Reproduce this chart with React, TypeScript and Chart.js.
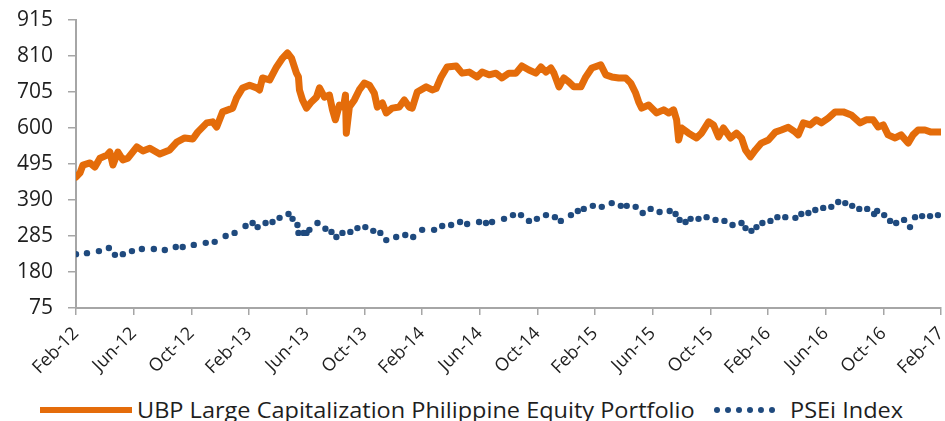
import React, { useEffect, useRef } from 'react';
import { Chart, registerables } from 'chart.js';

Chart.register(...registerables);

// X axis: months since Feb-2012
const xTickLabels = [
  'Feb-12', 'Jun-12', 'Oct-12', 'Feb-13', 'Jun-13', 'Oct-13', 'Feb-14',
  'Jun-14', 'Oct-14', 'Feb-15', 'Jun-15', 'Oct-15', 'Feb-16', 'Jun-16',
  'Oct-16', 'Feb-17',
];
const yTickValues = [75, 180, 285, 390, 495, 600, 705, 810, 915];

const ubpMonth = [
  0, 0.28, 0.48, 0.97, 1.31, 1.66, 2.15, 2.35, 2.56, 2.91, 3.25, 3.6, 4.22, 4.64,
  5.12, 5.81, 6.5, 6.99, 7.54, 8.1, 8.44, 9.07, 9.48, 9.76, 10.17, 10.87, 11.14,
  11.56, 12.04, 12.53, 12.73, 12.94, 13.43, 13.91, 14.33, 14.67, 14.95, 15.29,
  15.43, 15.5, 15.71, 15.99, 16.33, 16.68, 16.89, 17.23, 17.58, 17.79, 17.99,
  18.27, 18.55, 18.69, 18.75, 18.96, 19.31, 19.65, 20.0, 20.35, 20.69, 20.9,
  21.25, 21.52, 21.94, 22.42, 22.77, 23.11, 23.32, 23.67, 24.29, 24.71, 24.98,
  25.33, 25.74, 26.37, 26.78, 27.27, 27.82, 28.17, 28.65, 29.13, 29.55, 30.03,
  30.52, 30.93, 31.42, 31.9, 32.25, 32.6, 32.94, 33.15, 33.5, 33.84, 34.19,
  34.53, 35.02, 35.36, 35.78, 36.4, 36.75, 37.16, 37.65, 38.13, 38.48, 38.82,
  39.03, 39.24, 39.72, 40.28, 40.76, 41.11, 41.45, 41.66, 41.8, 42.01, 42.49,
  43.04, 43.39, 43.88, 44.22, 44.57, 44.91, 45.4, 45.81, 46.16, 46.44, 46.78,
  47.13, 47.54, 48.03, 48.51, 48.93, 49.41, 49.9, 50.1, 50.45, 50.93, 51.35,
  51.7, 52.18, 52.66, 53.22, 53.77, 54.39, 54.81, 55.29, 55.64, 55.99, 56.33,
  56.82, 57.23, 57.72, 58.06, 58.41, 58.89, 59.31, 59.79, 60,
];
const ubpValue = [
  457, 469, 492, 498, 486, 512, 521, 530, 492, 530, 507, 512, 545, 533,
  541, 524, 536, 559, 571, 568, 588, 615, 618, 603, 647, 658, 688,
  717, 725, 717, 711, 746, 740, 778, 804, 819, 804, 760,
  749, 711, 682, 658, 676, 690, 717, 690, 696, 653, 624,
  667, 661, 696, 585, 661, 682, 711, 731, 725, 702, 661,
  673, 644, 658, 661, 682, 661, 658, 705, 720, 711, 715,
  749, 778, 781, 760, 763, 749, 763, 755, 760, 746, 760,
  760, 781, 769, 760, 778, 763, 775, 760, 720, 746, 734,
  720, 720, 749, 775, 784, 755, 749, 746, 746, 731, 702,
  676, 658, 667, 644, 653, 644, 653, 624, 565, 600, 585,
  571, 585, 618, 609, 574, 600, 571, 585, 571, 536, 516,
  536, 556, 565, 588, 594, 602, 588, 580, 615, 609, 624,
  615, 629, 647, 647, 638, 615, 624, 624, 603, 609, 580,
  571, 580, 556, 580, 594, 594, 588, 588, 588,
];

const pseiMonth = [
  0, 0.76, 1.59, 2.28, 2.7, 3.25, 3.88, 4.57, 5.4, 6.16, 6.92, 7.4, 8.17, 9.0,
  9.62, 10.38, 11.0, 11.76, 12.25, 12.6, 13.15, 13.63, 14.12, 14.74, 15.02,
  15.36, 15.43, 15.78, 15.99, 16.19, 16.75, 17.3, 17.72, 18.06, 18.48, 19.03,
  19.52, 20.07, 20.62, 21.11, 21.52, 22.21, 22.84, 23.39, 24.01, 24.84, 25.4,
  26.02, 26.64, 27.13, 27.96, 28.44, 28.86, 29.69, 30.31, 30.87, 31.42, 31.97,
  32.6, 33.22, 33.63, 34.33, 34.81, 35.22, 35.85, 36.47, 37.16, 37.79, 38.2,
  38.82, 39.31, 39.86, 40.48, 41.18, 41.59, 41.87, 42.28, 42.63, 43.18, 43.74,
  44.36, 44.98, 45.54, 46.16, 46.44, 46.85, 47.2, 47.61, 48.17, 48.65, 49.2,
  49.9, 50.31, 50.8, 51.28, 51.83, 52.39, 52.87, 53.36, 53.84, 54.33, 54.88,
  55.36, 55.57, 56.06, 56.47, 56.89, 57.44, 57.85, 58.2, 58.69, 59.24, 59.79,
];
const pseiValue = [
  232, 235, 241, 250, 230, 232, 241, 247, 247, 244, 253, 253, 259, 265,
  268, 285, 294, 314, 323, 311, 323, 326, 338, 349, 335,
  317, 294, 294, 294, 303, 323, 306, 297, 282, 294, 297,
  308, 311, 300, 294, 273, 282, 288, 282, 303, 303, 314,
  317, 326, 320, 326, 323, 326, 335, 346, 346, 329, 335,
  346, 340, 329, 346, 358, 364, 373, 370, 381, 373, 373,
  370, 352, 364, 355, 358, 349, 332, 326, 335, 335, 340,
  332, 329, 317, 323, 308, 300, 311, 323, 329, 340, 340,
  338, 349, 352, 361, 367, 370, 384, 381, 373, 364, 364,
  349, 358, 346, 329, 323, 332, 311, 340, 343, 343, 346,
];

const ORANGE = '#E46C0A';
const BLUE = '#1F4A7E';
const AXIS = '#A6A6A6';
const TEXT = '#1E1E1E';
const FONT = '"Open Sans", "Liberation Sans", sans-serif';

export default function App() {
  const ref = useRef<HTMLCanvasElement>(null);

  useEffect(() => {
    const ubpData = ubpMonth.map((m, i) => ({ x: m, y: ubpValue[i] }));
    const pseiData = pseiMonth.map((m, i) => ({ x: m, y: pseiValue[i] }));
    const chart = new Chart(ref.current as HTMLCanvasElement, {
      type: 'line',
      data: {
        datasets: [
          {
            label: 'UBP Large Capitalization Philippine Equity Portfolio',
            data: ubpData,
            borderColor: ORANGE,
            backgroundColor: ORANGE,
            borderWidth: 7,
            pointRadius: 0,
            tension: 0,
            borderJoinStyle: 'round',
            borderCapStyle: 'round',
          },
          {
            label: 'PSEi Index',
            data: pseiData,
            showLine: false,
            borderColor: BLUE,
            backgroundColor: BLUE,
            pointRadius: 3.2,
            pointBorderWidth: 0,
            pointBackgroundColor: BLUE,
          },
        ],
      },
      options: {
        animation: false,
        responsive: true,
        maintainAspectRatio: false,
        layout: { padding: { left: 0, right: 2, top: 20, bottom: 2 } },
        plugins: { legend: { display: false }, tooltip: { enabled: false } },
        scales: {
          x: {
            type: 'linear',
            min: 0,
            max: 60,
            afterBuildTicks: (s: any) => {
              s.ticks = xTickLabels.map((_, i) => ({ value: i * 4 }));
            },
            afterFit: (s: any) => {
              s.height = 70;
              s.paddingRight = 0;
              s.paddingLeft = 0;
            },
            ticks: {
              autoSkip: false,
              maxRotation: 45,
              minRotation: 45,
              padding: 8,
              color: TEXT,
              font: { family: FONT, size: 18 },
              callback: (v: any) => xTickLabels[Math.round(Number(v) / 4)] ?? '',
            },
            grid: {
              display: true,
              drawOnChartArea: false,
              drawTicks: true,
              tickLength: 7,
              color: AXIS,
              lineWidth: 1.5,
            },
            border: { display: true, color: AXIS, width: 2 },
          },
          y: {
            min: 75,
            max: 915,
            afterBuildTicks: (s: any) => {
              s.ticks = yTickValues.map((v) => ({ value: v }));
            },
            afterFit: (s: any) => {
              s.width = 76;
              s.paddingTop = 0;
              s.paddingBottom = 0;
            },
            ticks: {
              padding: 15,
              color: TEXT,
              font: { family: FONT, size: 21 },
            },
            grid: {
              display: true,
              drawOnChartArea: false,
              drawTicks: true,
              tickLength: 8,
              color: AXIS,
              lineWidth: 1.5,
            },
            border: { display: true, color: AXIS, width: 2 },
          },
        },
      },
    });
    return () => chart.destroy();
  }, []);

  const dots = [0, 1, 2, 3, 4, 5];
  const legendText = {
    position: 'absolute' as const,
    top: 396,
    fontFamily: FONT,
    fontSize: 21,
    lineHeight: '28px',
    color: TEXT,
    whiteSpace: 'nowrap' as const,
    transformOrigin: 'left center',
    transform: 'scaleX(1.12)',
  };
  return (
    <div style={{ position: 'fixed', left: 0, top: 0, width: 945, height: 421, background: '#fff', overflow: 'hidden' }}>
      <div style={{ position: 'absolute', left: 0, top: 0, width: 945, height: 380 }}>
        <canvas ref={ref} />
      </div>
      <div style={{ position: 'absolute', left: 40, top: 407, width: 92, height: 6, background: ORANGE }} />
      <div style={{ ...legendText, left: 137 }}>
        UBP Large Capitalization Philippine Equity Portfolio
      </div>
      {dots.map((d) => (
        <div key={d} style={{ position: 'absolute', left: 714 + d * 11, top: 407, width: 6, height: 6, borderRadius: 3, background: BLUE }} />
      ))}
      <div style={{ ...legendText, left: 790 }}>
        PSEi Index
      </div>
    </div>
  );
}
